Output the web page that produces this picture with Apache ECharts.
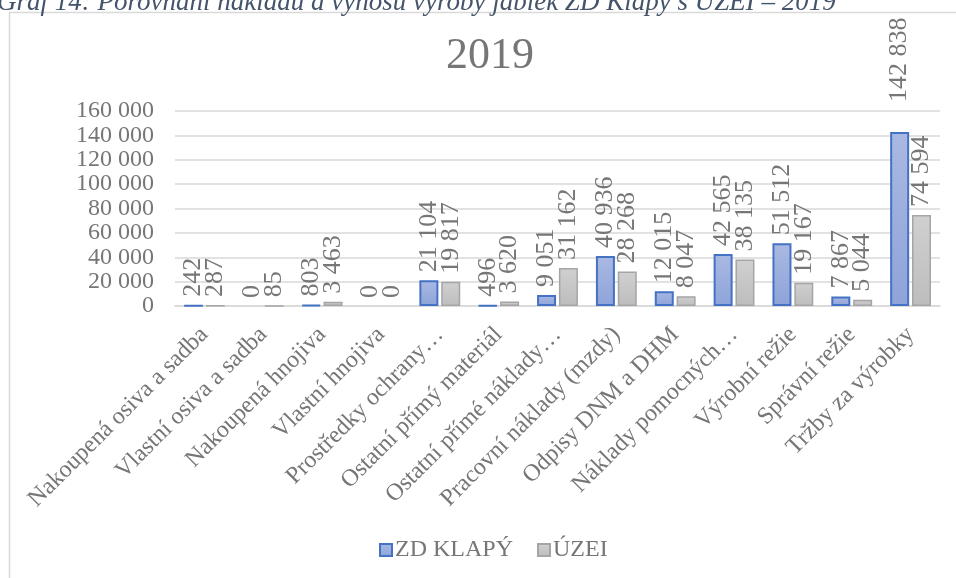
<!DOCTYPE html>
<html>
<head>
<meta charset="utf-8">
<script src="https://cdn.jsdelivr.net/npm/echarts@6/dist/echarts.min.js"></script>
<style>
	html, body { margin: 0; padding: 0; background: #fff; }
	#chart { width: 956px; height: 578px; }
</style>
</head>
<body>
<div id="chart"></div>
<script>
var categories = ['Nakoupená osiva a sadba', 'Vlastní osiva a sadba', 'Nakoupená hnojiva', 'Vlastní hnojiva',
	'Prostředky ochrany…', 'Ostatní přímý materiál', 'Ostatní přímé náklady…', 'Pracovní náklady (mzdy)',
	'Odpisy DNM a DHM', 'Náklady pomocných…', 'Výrobní režie', 'Správní režie', 'Tržby za výrobky'];
var zdKlapy = [242, 0, 803, 0, 21104, 496, 9051, 40936, 12015, 42565, 51512, 7867, 142838];
var uzei = [287, 85, 3463, 0, 19817, 3620, 31162, 28268, 8047, 38135, 19167, 5044, 74594];
var seriesNames = ['ZD KLAPÝ', 'ÚZEI'];

var serif = "'Liberation Serif', 'Times New Roman', serif";
var textGray = '#767676';

function fmt(v) {
	return String(v).replace(/\B(?=(\d{3})+(?!\d))/g, ' ');
}

// zero bars get no outline; the tallest bar's label sits a bit higher in the original
function toItems(arr, lastDistance) {
	return arr.map(function(v, i) {
		var item = { value: v };
		if (v === 0) item.itemStyle = { borderWidth: 0, color: 'rgba(0,0,0,0)' };
		if (lastDistance && i === arr.length - 1) item.label = { distance: lastDistance };
		return item;
	});
}

var chart = echarts.init(document.getElementById('chart'));
var option = {
	animation: false,
	backgroundColor: '#fff',
	title: {
		text: '2019',
		left: 441,
		top: 29,
		textStyle: {
			fontFamily: serif,
			fontSize: 44,
			fontWeight: 'normal',
			color: textGray
		}
	},
	graphic: [{
		type: 'rect',
		shape: { x: 9.5, y: 12.5, width: 980, height: 600 },
		style: { fill: 'none', stroke: '#d9d9d9', lineWidth: 1.5 },
		silent: true
	}, {
		type: 'text',
		left: -3,
		top: -11,
		style: {
			text: 'Graf 14: Porovnání nákladů a výnosů výroby jablek ZD Klapý s ÚZEI – 2019',
			font: 'italic 27px ' + serif,
			fill: '#44546a'
		}
	}],
	legend: {
		data: seriesNames,
		left: 374,
		top: 533,
		itemWidth: 12,
		itemHeight: 12,
		itemGap: 24,
		icon: 'rect',
		textStyle: {
			fontFamily: serif,
			fontSize: 24,
			color: textGray,
			padding: [0, 0, 0, -2]
		}
	},
	grid: {
		left: 175,
		right: 16,
		top: 111,
		bottom: 272,
		containLabel: false
	},
	xAxis: {
		type: 'category',
		data: categories,
		axisLine: { lineStyle: { color: '#d9d9d9', width: 1.5 } },
		axisTick: { show: false },
		axisLabel: {
			rotate: 45,
			interval: 0,
			margin: 25,
			fontFamily: serif,
			fontSize: 24,
			color: textGray
		}
	},
	yAxis: {
		type: 'value',
		min: 0,
		max: 160000,
		interval: 20000,
		axisLine: { show: false },
		axisTick: { show: false },
		splitLine: { lineStyle: { color: '#d9d9d9', width: 1.5 } },
		axisLabel: {
			margin: 21,
			showMinLabel: true,
			showMaxLabel: true,
			hideOverlap: false,
			fontFamily: serif,
			fontSize: 24,
			color: textGray,
			formatter: fmt
		}
	},
	series: [{
		name: seriesNames[0],
		type: 'bar',
		data: toItems(zdKlapy, 30),
		barWidth: 19,
		barGap: '15%',
		itemStyle: {
			color: new echarts.graphic.LinearGradient(0, 0, 0, 1, [
				{ offset: 0, color: '#aab9e2' },
				{ offset: 1, color: '#8ea3d9' }
			]),
			borderColor: '#4472c4',
			borderWidth: 2
		},
		label: {
			show: true,
			position: 'top',
			rotate: 90,
			align: 'left',
			verticalAlign: 'middle',
			distance: 8,
			fontFamily: serif,
			fontSize: 26,
			color: textGray,
			formatter: function(p) { return fmt(p.value); }
		}
	}, {
		name: seriesNames[1],
		type: 'bar',
		data: toItems(uzei, 0),
		barWidth: 19,
		barGap: '15%',
		itemStyle: {
			color: new echarts.graphic.LinearGradient(0, 0, 0, 1, [
				{ offset: 0, color: '#d0d0d0' },
				{ offset: 1, color: '#bdbdbd' }
			]),
			borderColor: '#a5a5a5',
			borderWidth: 1.5
		},
		label: {
			show: true,
			position: 'top',
			rotate: 90,
			align: 'left',
			verticalAlign: 'middle',
			distance: 8,
			fontFamily: serif,
			fontSize: 26,
			color: textGray,
			formatter: function(p) { return fmt(p.value); }
		}
	}]
};
chart.setOption(option);
</script>
</body>
</html>
